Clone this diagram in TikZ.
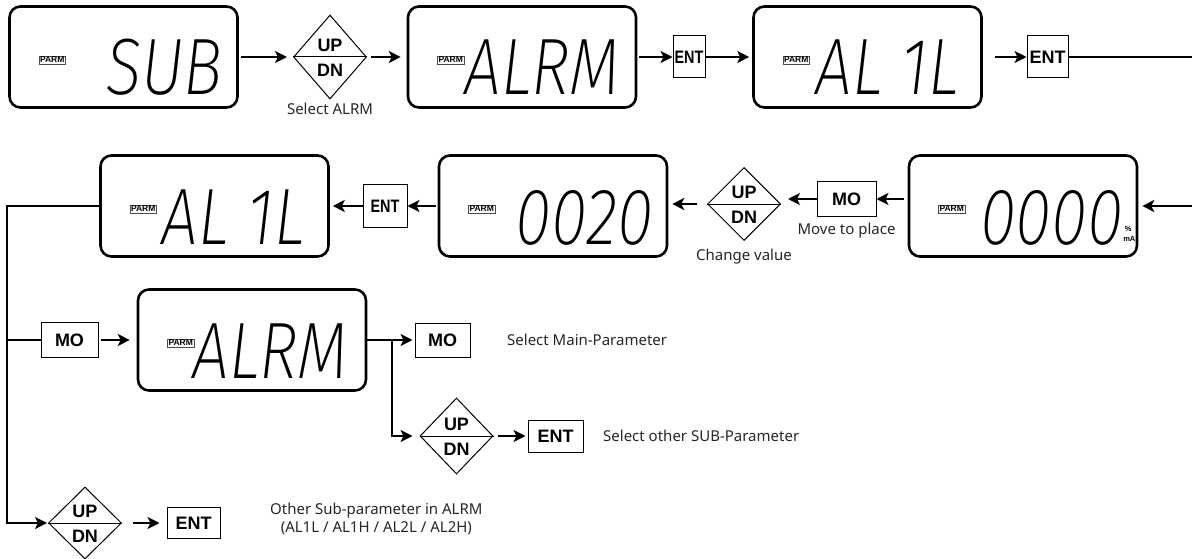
\documentclass[tikz,border=0pt]{standalone}
\usepackage{fontspec}
\setmainfont{Noto Sans}
\newfontfamily\btnfont{Liberation Sans}
\newfontfamily\segfont{Fira Sans ExtraLight}[ItalicFont={Fira Sans ExtraLight Italic}]
\usetikzlibrary{arrows.meta,calc,positioning,shapes.geometric}
\definecolor{LblClr}{rgb}{0.15,0.15,0.15}

\tikzset{
  lcdbox/.style={draw,line width=2.6pt,rounded corners=11pt,minimum width=228pt,minimum height=101pt,inner sep=0pt},
  parm/.style={draw=black!70,line width=.7pt,inner sep=1pt,font=\btnfont\bfseries\fontsize{8.5}{8.5}\selectfont},
  segtxt/.style={anchor=base east,inner sep=0pt,font=\segfont\itshape\fontsize{80}{80}\selectfont},
  unit/.style={inner sep=0pt,font=\btnfont\bfseries\fontsize{7.5}{7.5}\selectfont},
  key/.style={draw,line width=1pt,inner sep=0pt,minimum width=55pt,minimum height=34pt,font=\btnfont\bfseries\fontsize{18}{18}\selectfont},
  updn/.style={draw,diamond,line width=1pt,inner sep=0pt,minimum width=73pt,minimum height=73pt},
  keytxt/.style={inner sep=0pt,font=\btnfont\bfseries\fontsize{18}{18}\selectfont},
  lbl/.style={inner sep=0pt,text=LblClr,font=\fontsize{15}{18}\selectfont},
  flow/.style={line width=1.8pt,-{Stealth[length=12pt,width=12pt,inset=3pt]}},
  wire/.style={line width=1.8pt}
}

\newcommand{\lcd}[4]{%
  \node[lcdbox] (#1) at (#2) {};
  \node[parm] (#1p) at ($(#1.west)+(44,3)$) {PARM};
  \node[segtxt] (#1t) at ($(#1.east)+(-#4,38)$) {\scalebox{.82}[1]{#3}};
}
\newcommand{\ud}[3]{%
  \node[updn,minimum height=#3pt] (#1) at (#2) {};
  \draw[line width=1pt] (#1.west) -- (#1.east);
  \node[keytxt,anchor=south] (#1u) at ($(#1.center)+(0,-5)$) {UP};
  \node[keytxt,anchor=north] (#1d) at ($(#1.center)+(0,7)$) {DN};
}

\begin{document}
\begin{tikzpicture}[x=1pt,y=-1pt]
\useasboundingbox (0,0) rectangle (1192,559);

\lcd{sub}{123.5,57}{SUB}{16}
\ud{selA}{330,57}{84}
\lcd{alrm}{522,57}{ALRM}{17}
\node[key,minimum width=32pt,minimum height=42pt] (ent1) at (689,57) {\scalebox{.8}[1]{ENT}};
\lcd{alone}{867.5,57}{AL 1L}{24}
\node[key,minimum width=41pt,minimum height=42pt] (ent2) at (1047.5,57) {ENT};
\coordinate (r1) at (1192,57);
\node[lbl,below=3pt of selA] (selAl) {Select ALRM};

\coordinate (r2) at (1192,206);
\lcd{zero}{1023,206}{0000}{15}
\node[unit] (zerou) at ($(zero.east)+(-10,23)$) {\%};
\node[unit] (zerom) at ($(zero.east)+(-9,33)$) {mA};
\node[key,minimum width=59pt,minimum height=35pt] (mo1) at (846.5,199) {MO};
\node[lbl,below=6pt of mo1] (mo1l) {Move to place};
\ud{chg}{744,204}{73}
\node[lbl,below=8pt of chg] (chgl) {Change value};
\lcd{val}{553,206}{0020}{15}
\node[key,minimum width=44pt,minimum height=42pt] (ent3) at (385,206) {\scalebox{.8}[1]{ENT}};
\lcd{altwo}{214.5,206}{AL 1L}{25}

\coordinate (bus) at (7,0);
\node[key,minimum width=57pt,minimum height=35pt] (mo2) at (69.5,340) {MO};
\lcd{alrmb}{252,340}{ALRM}{19}
\node[key,minimum width=55pt,minimum height=34pt] (mo3) at (442.5,340) {MO};
\node[lbl,anchor=west] (mainl) at (507,340) {Select Main-Parameter};
\coordinate (fork) at (392,0);
\ud{nxt}{456.5,436}{76}
\node[key,minimum width=55pt,minimum height=32pt] (ent4) at (555.5,436) {ENT};
\node[lbl,anchor=west] (subl) at (603,436) {Select other SUB-Parameter};

\ud{oth}{85,523}{72}
\node[key,minimum width=53pt,minimum height=31pt] (ent5) at (193.5,523) {ENT};
\node[lbl,anchor=west,align=center] (othl) at (270,519) {Other Sub-parameter in ALRM\\(AL1L / AL1H / AL2L / AL2H)};

\draw[flow,shorten <=2pt,shorten >=6pt] (sub) -- (selA);
\draw[flow,shorten <=4pt,shorten >=6pt] (selA) -- (alrm);
\draw[flow,shorten <=2pt] (alrm) -- (ent1);
\draw[flow,shorten >=3pt] (ent1) -- (alone);
\draw[flow,shorten <=12pt] (alone) -- (ent2);
\draw[wire] (ent2) -- (r1);

\draw[flow,shorten >=4pt] (r2) -- (zero);
\draw[flow,shorten <=4pt] (mo1 -| zero.west) -- (mo1.east);
\draw[flow,shorten >=7pt] (mo1.west) -- (mo1 -| chg.east);
\draw[flow,shorten <=10pt,shorten >=4pt] (chg.west) -- (chg -| val.east);
\draw[flow,shorten <=2pt] (val) -- (ent3);
\draw[flow,shorten >=3pt] (ent3) -- (altwo);

\draw[flow,shorten >=1pt] (altwo.west) -| (oth.west -| bus) -- (oth.west);
\draw[wire] (mo2 -| bus) -- (mo2.west);
\draw[flow,shorten <=2pt,shorten >=7pt] (mo2) -- (alrmb);
\draw[flow,shorten >=2pt] (alrmb) -- (mo3);
\draw[flow,shorten >=7pt] (alrmb.east -| fork) |- (nxt.west);
\draw[flow,shorten <=4pt,shorten >=2pt] (nxt) -- (ent4);
\draw[flow,shorten <=11pt,shorten >=7pt] (oth) -- (ent5);

\end{tikzpicture}
\end{document}
